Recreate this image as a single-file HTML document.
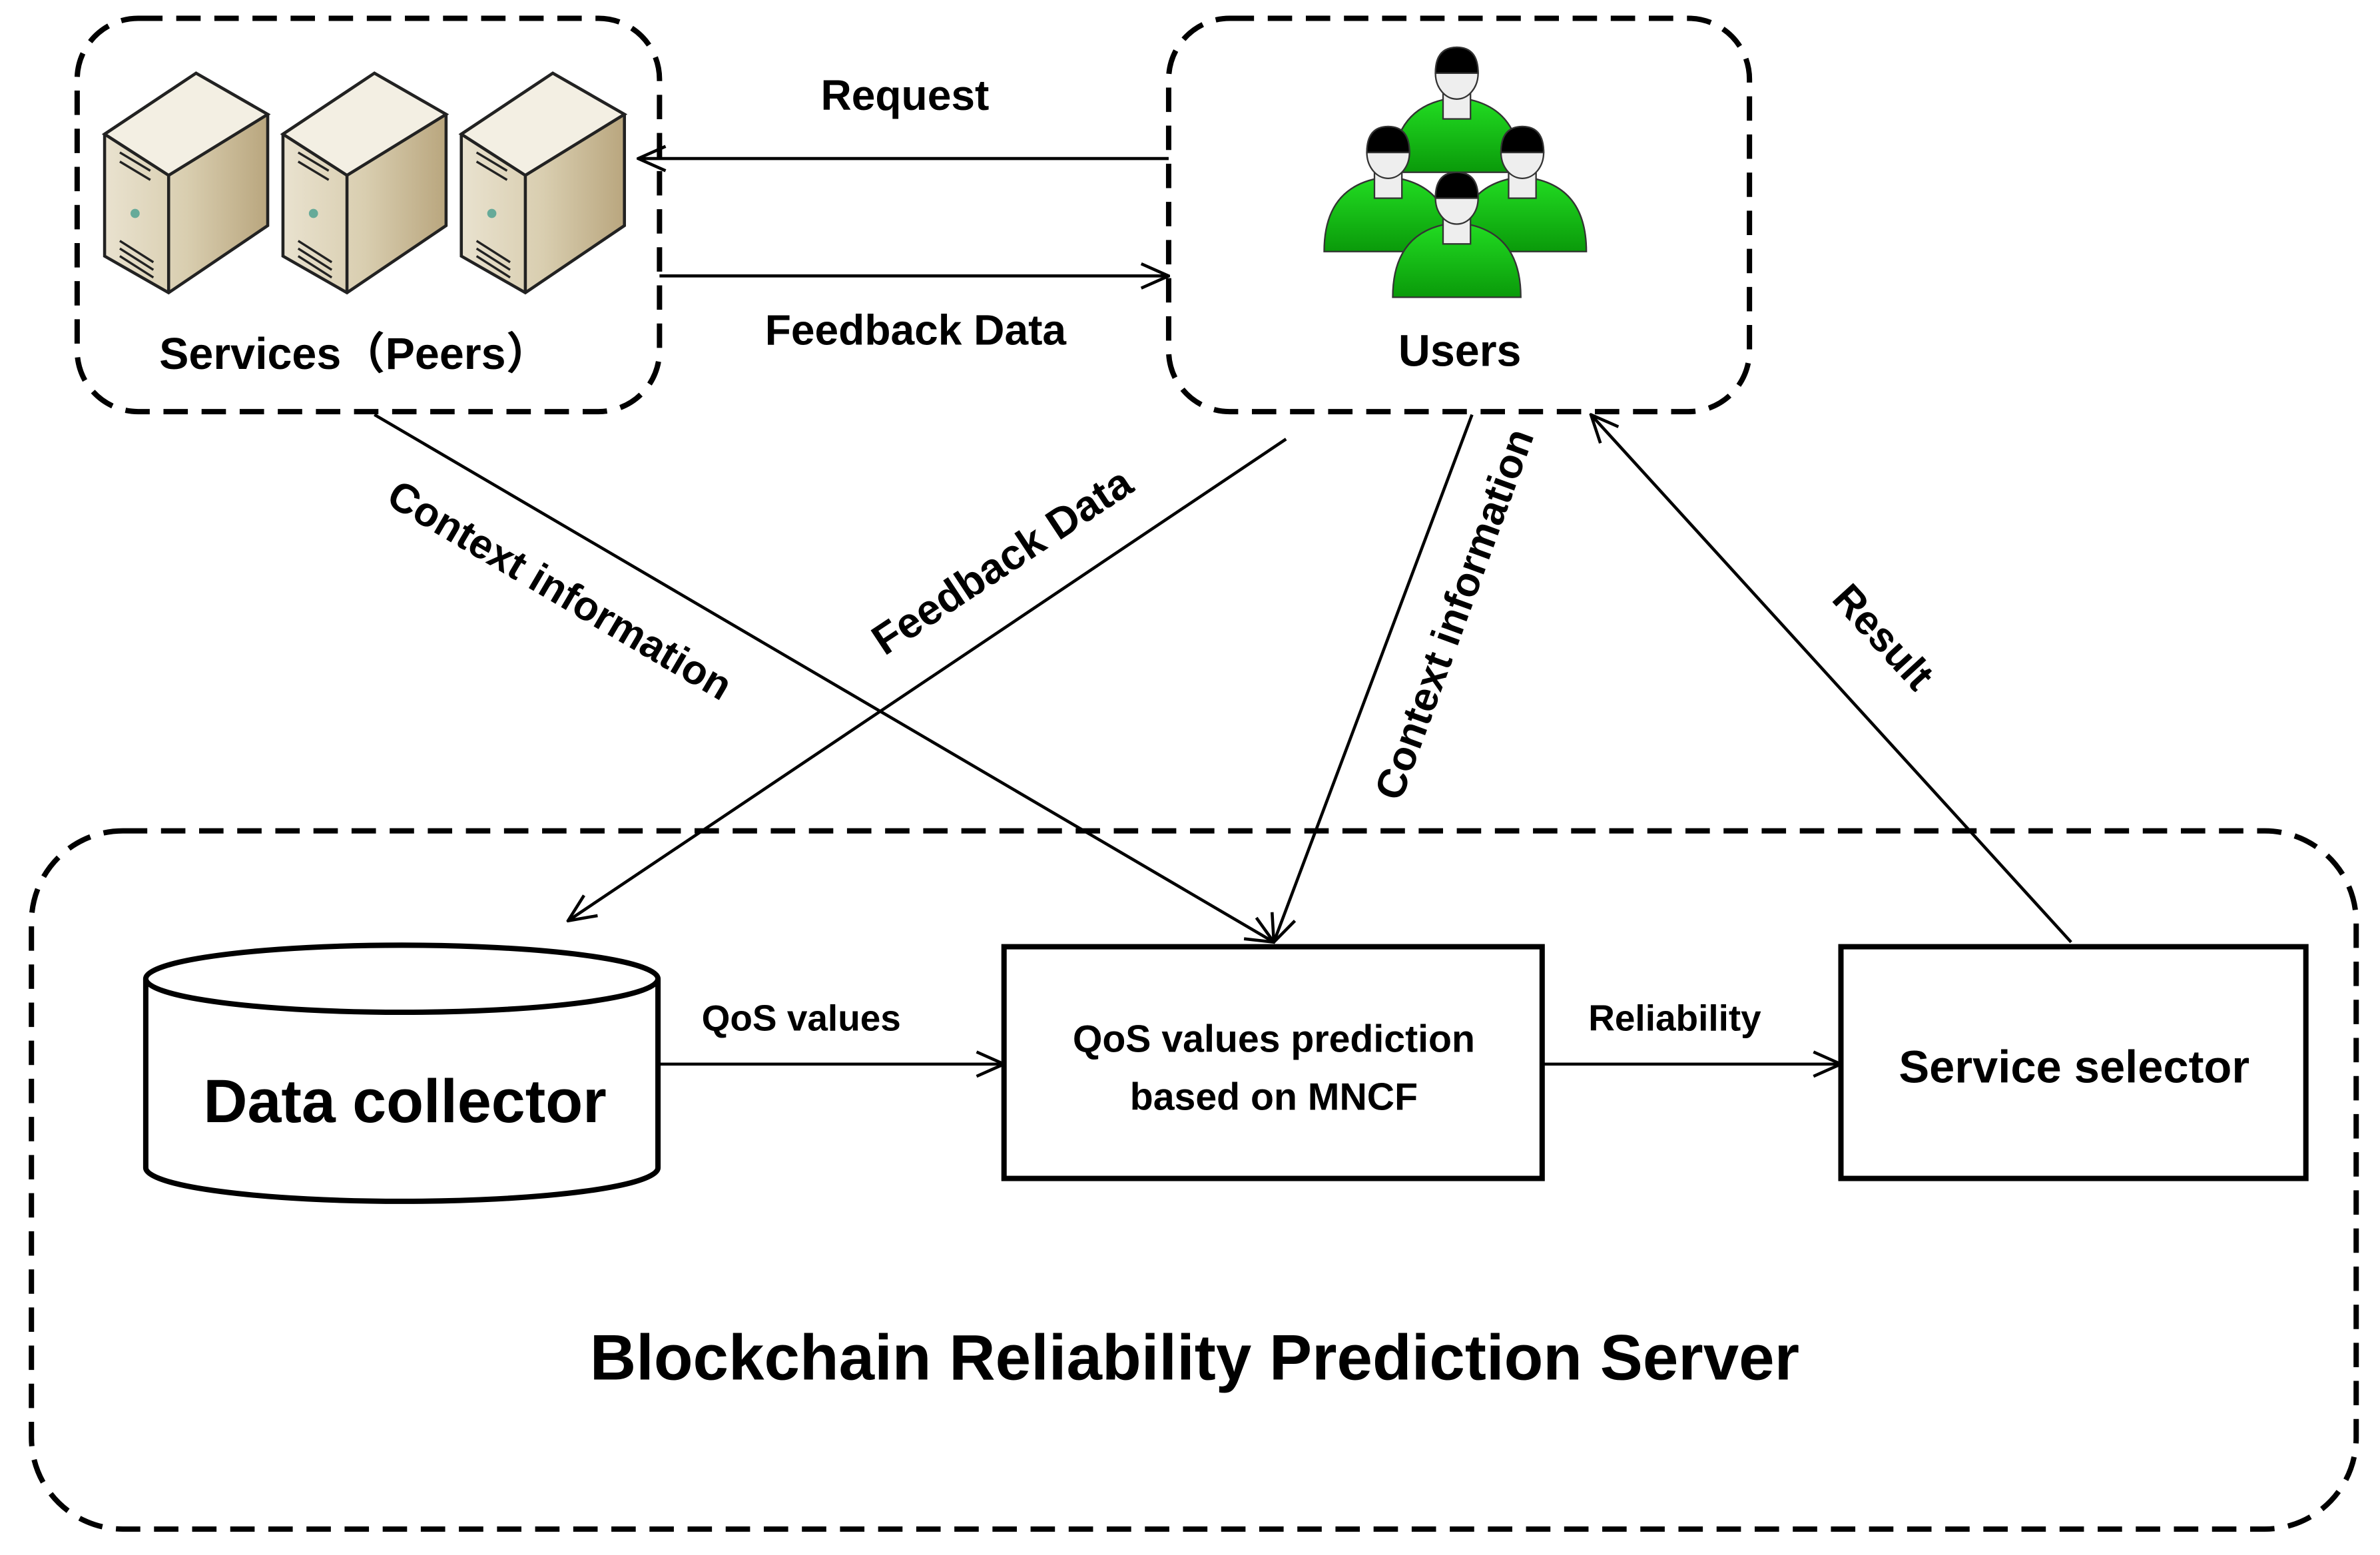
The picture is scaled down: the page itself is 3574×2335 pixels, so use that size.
<!DOCTYPE html>
<html><head><meta charset="utf-8"><style>
html,body{margin:0;padding:0;background:#fff;}
svg{display:block;}
text{font-family:"Liberation Sans","Noto Sans CJK SC",sans-serif;font-weight:bold;fill:#000;}
</style></head><body>
<svg width="3574" height="2335" viewBox="0 0 1560 1020" xmlns="http://www.w3.org/2000/svg">
<defs>
<marker id="ah" viewBox="0 0 20 20" refX="19" refY="10" markerWidth="20" markerHeight="20" markerUnits="userSpaceOnUse" orient="auto">
<path d="M1,2 L19,10 L1,18" fill="none" stroke="#000" stroke-width="2"/>
</marker>
<linearGradient id="srv" x1="0" x2="1" y1="0" y2="0">
<stop offset="0" stop-color="#e9e2cf"/><stop offset="0.5" stop-color="#d9ceb0"/><stop offset="1" stop-color="#b9a67e"/>
</linearGradient>
<linearGradient id="grn" x1="0" x2="0" y1="0" y2="1">
<stop offset="0" stop-color="#22dd22"/><stop offset="1" stop-color="#0a9a0a"/>
</linearGradient>
<g id="u1" stroke="#333" stroke-width="1">
<path d="M-42,65 Q-42,20 0,16 Q42,20 42,65 Z" fill="url(#grn)"/>
<rect x="-9" y="4" width="18" height="26" fill="#eee"/>
<ellipse cx="0" cy="0" rx="14" ry="17" fill="#eee"/>
<path d="M-14,0 Q-14,-17 0,-17 Q14,-17 14,0 Z" fill="#000"/>
</g>
</defs>
<g fill="none" stroke="#000" stroke-width="3.5" stroke-dasharray="16 9">
<rect x="50" y="12" width="382" height="258" rx="40"/>
<rect x="766" y="12" width="381" height="258" rx="40"/>
<rect x="20" y="545" width="1525" height="458" rx="60"/>
</g>
<!-- servers -->
<g stroke="#222" stroke-width="2">
<g id="s1">
<path d="M68,88 L128,48 L175,75 L175,148 L110,192 L68,168 Z" fill="url(#srv)"/>
<path d="M68,88 L128,48 L175,75 L110,115 Z" fill="#f3efe3"/>
<path d="M110,115 L110,192" />
<circle cx="88" cy="140" r="3" fill="#6a9" stroke="none"/>
<path d="M78,100 L98,112 M78,106 L98,118 M78,158 L100,172 M78,163 L100,177 M78,168 L100,182" stroke-width="1.5"/>
</g>
<use href="#s1" x="117"/>
<use href="#s1" x="234"/>
</g>
<!-- users -->
<use href="#u1" x="955" y="48"/>
<use href="#u1" x="910" y="100"/>
<use href="#u1" x="998" y="100"/>
<use href="#u1" x="955" y="130"/>
<!-- top labels -->
<text x="593" y="72" font-size="28" text-anchor="middle">Request</text>
<text x="600" y="226" font-size="28" text-anchor="middle">Feedback  Data</text>
<text x="232" y="242" font-size="29" text-anchor="middle">Services（Peers）</text>
<text x="957" y="240" font-size="29" text-anchor="middle">Users</text>
<!-- arrows -->
<g stroke="#000" stroke-width="2" fill="none">
<line x1="766" y1="104" x2="418" y2="104" marker-end="url(#ah)"/>
<line x1="432" y1="181" x2="766" y2="181" marker-end="url(#ah)"/>
<line x1="245" y1="272" x2="835" y2="618" marker-end="url(#ah)"/>
<line x1="843" y1="288" x2="372" y2="604" marker-end="url(#ah)"/>
<line x1="965" y1="272" x2="835" y2="618" marker-end="url(#ah)"/>
<line x1="1358" y1="618" x2="1043" y2="272" marker-end="url(#ah)"/>
<line x1="432" y1="698" x2="658" y2="698" marker-end="url(#ah)"/>
<line x1="1011" y1="698" x2="1207" y2="698" marker-end="url(#ah)"/>
</g>
<text font-size="27" text-anchor="middle" transform="translate(362,395) rotate(30.5)">Context information</text>
<text font-size="28" text-anchor="middle" transform="translate(662,376) rotate(-33.5)">Feedback  Data</text>
<text font-size="27" text-anchor="middle" transform="translate(962,406) rotate(-70)">Context information</text>
<text font-size="27" text-anchor="middle" transform="translate(1228,424) rotate(47.5)">Result</text>
<!-- cylinder -->
<g stroke="#000" stroke-width="3.5" fill="#fff">
<path d="M95,642 L95,766 A168,22 0 0 0 431,766 L431,642"/>
<ellipse cx="263" cy="642" rx="168" ry="22"/>
</g>
<text x="265" y="736" font-size="40" text-anchor="middle">Data collector</text>
<rect x="658" y="621" width="353" height="152" fill="none" stroke="#000" stroke-width="3.5"/>
<rect x="1207" y="621" width="305" height="152" fill="none" stroke="#000" stroke-width="3.5"/>
<text x="835" y="690" font-size="25" text-anchor="middle">QoS values prediction</text>
<text x="835" y="728" font-size="25" text-anchor="middle">based on MNCF</text>
<text x="1360" y="710" font-size="30" text-anchor="middle">Service  selector</text>
<text x="525" y="676" font-size="24" text-anchor="middle">QoS values</text>
<text x="1098" y="676" font-size="24" text-anchor="middle">Reliability</text>
<text x="783" y="905" font-size="42" text-anchor="middle">Blockchain Reliability Prediction Server</text>
</svg>
</body></html>
